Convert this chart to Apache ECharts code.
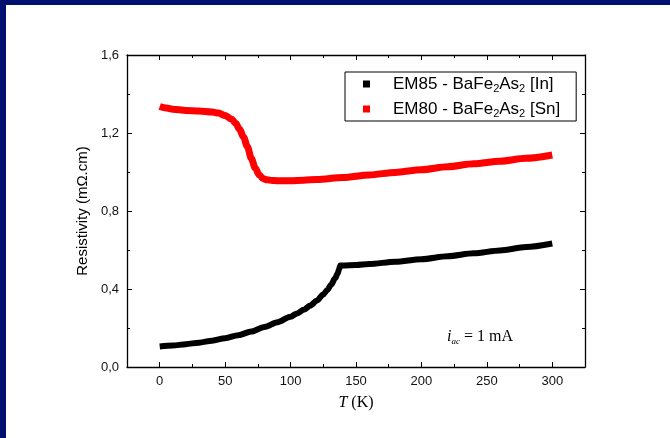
<!DOCTYPE html>
<html>
<head>
<meta charset="utf-8">
<script src="https://cdn.jsdelivr.net/npm/echarts@6/dist/echarts.min.js"></script>
<style>
  html, body { margin: 0; padding: 0; background: #fff; }
  #chart { width: 670px; height: 438px; }
</style>
</head>
<body>
<div id="chart"></div>
<script>
// Sample EM85 (BaFe2As2 grown from In flux): temperature (K) and resistivity (mOhm.cm)
const tempEM85 = [0, 10, 20, 30, 40, 50, 60, 70, 80, 90, 100, 105, 110, 115, 120, 125, 128, 131, 134, 136, 137, 138, 140, 150, 160, 180, 200, 220, 240, 260, 280, 300];
const rhoEM85  = [0.105, 0.110, 0.117, 0.125, 0.135, 0.148, 0.163, 0.182, 0.205, 0.230, 0.258, 0.275, 0.293, 0.315, 0.340, 0.372, 0.395, 0.422, 0.455, 0.480, 0.500, 0.520, 0.521, 0.523, 0.528, 0.540, 0.553, 0.568, 0.583, 0.598, 0.615, 0.633];

// Sample EM80 (BaFe2As2 grown from Sn flux)
const tempEM80 = [0, 5, 10, 20, 30, 40, 45, 50, 55, 58, 61, 64, 67, 70, 73, 76, 79, 82, 86, 90, 100, 110, 120, 140, 160, 180, 200, 220, 240, 260, 280, 300];
const rhoEM80  = [1.336, 1.328, 1.322, 1.316, 1.313, 1.308, 1.302, 1.290, 1.270, 1.250, 1.220, 1.180, 1.130, 1.070, 1.020, 0.985, 0.966, 0.960, 0.957, 0.955, 0.955, 0.958, 0.962, 0.972, 0.985, 0.998, 1.012, 1.027, 1.042, 1.055, 1.070, 1.087];

const seriesNames = ['EM85 - BaFe2As2 [In]', 'EM80 - BaFe2As2 [Sn]'];
const legendRich = {
  'EM85 - BaFe2As2 [In]': '{f|EM85 - BaFe}{s|2}{n|As}{s|2}{n| [In]}',
  'EM80 - BaFe2As2 [Sn]': '{f|EM80 - BaFe}{s|2}{n|As}{s|2}{n| [Sn]}'
};

// Axis ticks
const xMajorTicks = [0, 50, 100, 150, 200, 250, 300];
const xMinorTicks = [-25, 25, 75, 125, 175, 225, 275, 325];

const pair = (xs, ys) => xs.map((x, i) => [x, ys[i]]);

const sans = 'Liberation Sans, Arial, sans-serif';
const serif = 'Liberation Serif, Times New Roman, serif';
const axisLine = { show: true, onZero: false, lineStyle: { color: '#000', width: 1.3 } };

function xAxisDef(position, ticks, len, withLine, withLabel) {
  const ax = {
    type: 'value', min: -25, max: 325, position: position,
    axisLine: withLine ? axisLine : { show: false, onZero: false },
    axisTick: { show: true, inside: true, length: len, customValues: ticks, lineStyle: { color: '#000', width: 1 } },
    axisLabel: withLabel
      ? { show: true, customValues: xMajorTicks, fontSize: 13, color: '#111', fontFamily: sans, margin: 8 }
      : { show: false },
    splitLine: { show: false }
  };
  if (withLabel) {
    ax.name = '{it|T} (K)';
    ax.nameLocation = 'middle';
    ax.nameGap = 28;
    ax.nameTextStyle = {
      fontFamily: serif, fontSize: 16, color: '#000',
      rich: { it: { fontFamily: serif, fontSize: 16, fontStyle: 'italic', color: '#000' } }
    };
  }
  return ax;
}

function yAxisDef(position, withLabel) {
  const ax = {
    type: 'value', min: 0, max: 1.6, interval: 0.4, position: position,
    axisLine: axisLine,
    axisTick: { show: true, inside: true, length: 5, lineStyle: { color: '#000', width: 1 } },
    minorTick: { show: true, splitNumber: 2, length: 3, lineStyle: { color: '#000', width: 1 } },
    axisLabel: withLabel
      ? { show: true, fontSize: 13, color: '#111', fontFamily: sans, margin: 8,
          formatter: v => v.toFixed(1).replace('.', ',') }
      : { show: false },
    splitLine: { show: false }
  };
  if (withLabel) {
    ax.name = 'Resistivity (m\u03A9.cm)';
    ax.nameLocation = 'middle';
    ax.nameGap = 36;
    ax.nameTextStyle = { fontFamily: sans, fontSize: 15, color: '#000' };
  }
  return ax;
}

const chart = echarts.init(document.getElementById('chart'), null, { renderer: 'canvas' });

chart.setOption({
  backgroundColor: '#fff',
  animation: false,
  grid: { left: 127, top: 55, right: 85, bottom: 71 },
  xAxis: [
    xAxisDef('bottom', xMajorTicks, 5, true, true),
    xAxisDef('bottom', xMinorTicks, 3, false, false),
    xAxisDef('top', xMajorTicks, 5, true, false),
    xAxisDef('top', xMinorTicks, 3, false, false)
  ],
  yAxis: [
    yAxisDef('left', true),
    yAxisDef('right', false)
  ],
  legend: {
    left: 345, top: 72,
    orient: 'vertical',
    data: seriesNames,
    icon: 'rect',
    itemWidth: 7, itemHeight: 7, itemGap: 6,
    padding: [3, 16, 2, 18],
    borderColor: '#000', borderWidth: 1,
    formatter: name => legendRich[name],
    textStyle: {
      fontFamily: sans, fontSize: 17, color: '#000', lineHeight: 18,
      rich: {
        f: { fontFamily: sans, fontSize: 17, color: '#000', padding: [0, 0, 0, 18] },
        n: { fontFamily: sans, fontSize: 17, color: '#000' },
        s: { fontFamily: sans, fontSize: 11, color: '#000', padding: [9, 0, 0, 0] }
      }
    }
  },
  graphic: [
    { type: 'rect', left: 0, top: 0, shape: { width: 670, height: 5 }, style: { fill: '#00106E' }, silent: true },
    { type: 'rect', left: 0, top: 0, shape: { width: 6, height: 438 }, style: { fill: '#00106E' }, silent: true },
    {
      type: 'text', left: 447, top: 329, silent: true,
      style: {
        text: '{i|i}{sub|ac}{n| = 1 mA}',
        rich: {
          i: { fontFamily: serif, fontSize: 16, fontStyle: 'italic', fill: '#000' },
          sub: { fontFamily: serif, fontSize: 9, fontStyle: 'italic', fill: '#000', padding: [10, 0, 0, 0] },
          n: { fontFamily: serif, fontSize: 16, fill: '#000' }
        }
      }
    }
  ],
  series: [
    {
      name: seriesNames[0], type: 'line', xAxisIndex: 0, yAxisIndex: 0,
      data: pair(tempEM85, rhoEM85),
      showSymbol: false, symbol: 'rect', smooth: 0.3, smoothMonotone: 'x',
      itemStyle: { color: '#000' },
      lineStyle: { color: '#000', width: 6 }
    },
    {
      name: seriesNames[1], type: 'line', xAxisIndex: 0, yAxisIndex: 0,
      data: pair(tempEM80, rhoEM80),
      showSymbol: false, symbol: 'rect', smooth: 0.3, smoothMonotone: 'x',
      itemStyle: { color: '#ff0000' },
      lineStyle: { color: '#ff0000', width: 7 }
    }
  ]
});
</script>
</body>
</html>
